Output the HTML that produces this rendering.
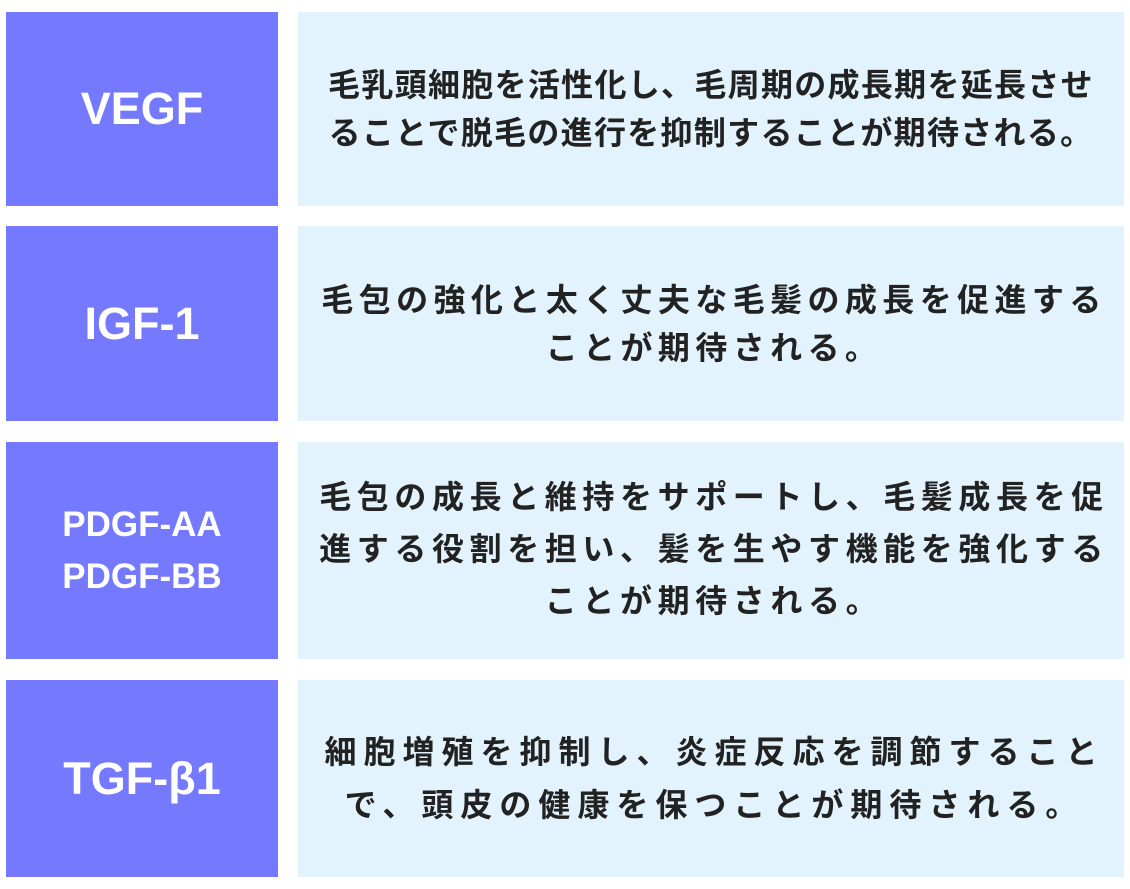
<!DOCTYPE html>
<html><head><meta charset="utf-8"><style>
body{margin:0;width:1130px;height:889px;background:#fff;position:relative;font-family:"Liberation Sans","Noto Sans CJK JP",sans-serif;}
.l,.r{position:absolute;display:flex;align-items:center;justify-content:center;text-align:center;font-weight:bold;box-sizing:border-box;}
.l{left:6px;width:272px;background:#7479fe;color:#fff;font-size:45px;}
.r{left:298px;width:826px;background:#e3f3fd;color:#222;font-size:32px;line-height:48px;letter-spacing:1.3px;}
</style></head><body>
<div class="l" style="top:12px;height:194px">VEGF</div>
<div class="r" style="top:12px;height:194px">毛乳頭細胞を活性化し、毛周期の成長期を延長させ<br>ることで脱毛の進行を抑制することが期待される。</div>
<div class="l" style="top:226px;height:195px">IGF-1</div>
<div class="r" style="top:226px;height:195px;letter-spacing:5.4px;padding-left:6px">毛包の強化と太く丈夫な毛髪の成長を促進する<br>ことが期待される。</div>
<div class="l" style="top:442px;height:217px;font-size:35px;line-height:52px">PDGF-AA<br>PDGF-BB</div>
<div class="r" style="top:442px;height:217px;letter-spacing:5.6px;padding-left:6px;line-height:52px;padding-bottom:4px">毛包の成長と維持をサポートし、毛髪成長を促<br>進する役割を担い、髪を生やす機能を強化する<br>ことが期待される。</div>
<div class="l" style="top:680px;height:197px">TGF-β1</div>
<div class="r" style="top:680px;height:197px;letter-spacing:7px;padding-left:7px;line-height:53px">細胞増殖を抑制し、炎症反応を調節すること<br>で、頭皮の健康を保つことが期待される。</div>
</body></html>
